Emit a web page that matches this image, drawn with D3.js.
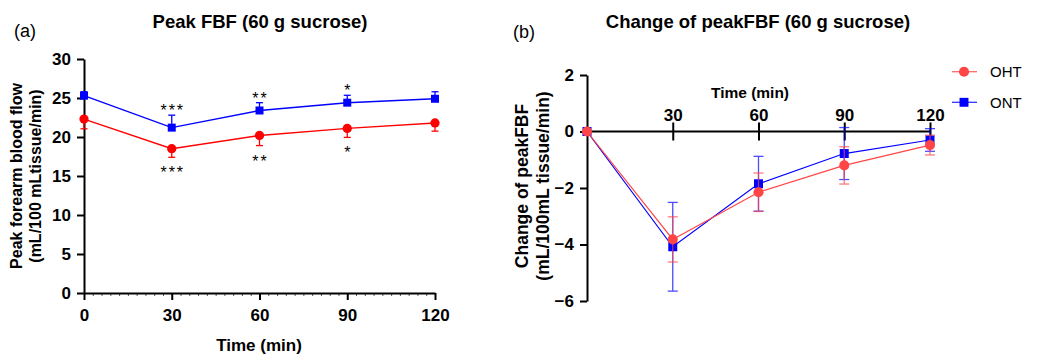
<!DOCTYPE html>
<html>
<head>
<meta charset="utf-8">
<script src="https://cdn.jsdelivr.net/npm/d3@7"></script>
<style>
  body { margin: 0; background: #fff; }
  svg { font-family: Arial, "Liberation Sans", sans-serif; }
</style>
</head>
<body>
<svg id="chart" width="1044" height="354"></svg>
<script>
// time points (min)
const times = [0, 30, 60, 90, 120];

// (a) peak FBF, mean and SEM
const ohtPeak = [22.3, 18.5, 20.2, 21.1, 21.8];
const ohtPeakErr = [1.25, 1.1, 1.3, 1.15, 1.05];
const ontPeak = [25.3, 21.2, 23.4, 24.4, 24.9];
const ontPeakErr = [0.5, 1.6, 1.0, 0.95, 0.9];
const sigAbove = ["", "***", "**", "*", ""];
const sigBelow = ["", "***", "**", "*", ""];

// (b) change of peak FBF, mean and SEM
const ohtChange = [0, -3.82, -2.15, -1.2, -0.48];
const ohtChangeErr = [0, 0.8, 0.68, 0.66, 0.35];
const ontChange = [0, -4.08, -1.85, -0.78, -0.3];
const ontChangeErr = [0, 1.57, 0.97, 0.92, 0.4];

const seriesNames = ["OHT", "ONT"];

const svg = d3.select("#chart");

function styleAxis(g) {
  g.select(".domain").attr("stroke", "#000").attr("stroke-width", 2);
  g.selectAll(".tick line").attr("stroke", "#000").attr("stroke-width", 2);
  g.selectAll(".tick text").attr("font-weight", "bold").attr("fill", "#000");
}

// ---------------- panel (a) ----------------
const xa = d3.scaleLinear().domain([0, 120]).range([84, 435]);
const ya = d3.scaleLinear().domain([0, 30]).range([293, 59]);

// minor ticks
svg.append("g")
  .attr("transform", "translate(0,293)")
  .call(d3.axisBottom(xa).tickValues(d3.range(0, 121, 3)).tickSize(3).tickFormat(""))
  .call(g => g.select(".domain").remove())
  .call(g => g.selectAll(".tick line").attr("stroke", "#555").attr("stroke-width", 1));

svg.append("g")
  .attr("transform", "translate(0,293)")
  .call(d3.axisBottom(xa).tickValues(times).tickSize(7).tickSizeOuter(0).tickPadding(9))
  .call(styleAxis)
  .call(g => g.selectAll(".tick text").attr("font-size", 17));

svg.append("g")
  .attr("transform", "translate(84,0)")
  .call(d3.axisLeft(ya).ticks(6).tickSize(7).tickSizeOuter(0).tickPadding(6))
  .call(styleAxis)
  .call(g => g.selectAll(".tick text").attr("font-size", 17));

svg.append("text").attr("x", 14).attr("y", 37).attr("font-size", 18).text("(a)");
svg.append("text").attr("x", 260).attr("y", 28).attr("text-anchor", "middle")
  .attr("font-size", 18.5).attr("font-weight", "bold").text("Peak FBF (60 g sucrose)");
svg.append("text").attr("x", 259).attr("y", 351).attr("text-anchor", "middle")
  .attr("font-size", 17).attr("font-weight", "bold").text("Time (min)");
const yla = svg.append("text").attr("transform", "translate(0,176) rotate(-90)")
  .attr("text-anchor", "middle").attr("font-size", 16).attr("font-weight", "bold");
yla.append("tspan").attr("x", 0).attr("y", 22).text("Peak forearm blood flow");
yla.append("tspan").attr("x", 0).attr("y", 41).text("(mL/100 mLtissue/min)");

function drawA(vals, errs, color, dir, shape) {
  const g = svg.append("g");
  const pts = times.map((t, i) => ({ t, v: vals[i], e: errs[i] }));
  g.selectAll(".eb").data(pts).enter().append("line")
    .attr("x1", d => xa(d.t)).attr("x2", d => xa(d.t))
    .attr("y1", d => ya(d.v)).attr("y2", d => ya(d.v + dir * d.e))
    .attr("stroke", color).attr("stroke-width", 1.3);
  g.selectAll(".cap").data(pts).enter().append("line")
    .attr("x1", d => xa(d.t) - 3.5).attr("x2", d => xa(d.t) + 3.5)
    .attr("y1", d => ya(d.v + dir * d.e)).attr("y2", d => ya(d.v + dir * d.e))
    .attr("stroke", color).attr("stroke-width", 1.3);
  g.append("path").datum(pts)
    .attr("d", d3.line().x(d => xa(d.t)).y(d => ya(d.v)))
    .attr("fill", "none").attr("stroke", color).attr("stroke-width", 1.4);
  g.selectAll(".m").data(pts).enter().append("path")
    .attr("transform", d => `translate(${xa(d.t)},${ya(d.v)})`)
    .attr("d", d3.symbol().type(shape).size(shape === d3.symbolSquare ? 64 : 68))
    .attr("fill", color);
}
drawA(ontPeak, ontPeakErr, "#0000ff", 1, d3.symbolSquare);
drawA(ohtPeak, ohtPeakErr, "#ff0000", -1, d3.symbolCircle);

// significance stars
svg.append("g").selectAll("text").data(times.map((t, i) => ({ t, s: sigAbove[i], v: ontPeak[i] + ontPeakErr[i] })))
  .enter().append("text")
  .attr("x", d => xa(d.t) + 1).attr("y", d => ya(d.v) + 1)
  .attr("text-anchor", "middle").attr("font-size", 16).attr("letter-spacing", 2)
  .attr("fill", "#000").text(d => d.s);
svg.append("g").selectAll("text").data(times.map((t, i) => ({ t, s: sigBelow[i], v: ohtPeak[i] - ohtPeakErr[i] })))
  .enter().append("text")
  .attr("x", d => xa(d.t) + 1).attr("y", d => ya(d.v) + 21)
  .attr("text-anchor", "middle").attr("font-size", 16).attr("letter-spacing", 2)
  .attr("fill", "#000").text(d => d.s);

// ---------------- panel (b) ----------------
const xb = d3.scaleLinear().domain([0, 120]).range([587, 930]);
const yb = d3.scaleLinear().domain([-6, 2]).range([301, 75]);

svg.append("g")
  .attr("transform", "translate(587,0)")
  .call(d3.axisLeft(yb).tickValues([-6, -4, -2, 0, 2]).tickSize(7).tickSizeOuter(0).tickPadding(6)
    .tickFormat(d3.format("d")))
  .call(styleAxis)
  .call(g => g.selectAll(".tick text").attr("font-size", 17));

svg.append("g")
  .attr("transform", `translate(0,${yb(0)})`)
  .call(d3.axisTop(xb).tickValues([30, 60, 90, 120]).tickSize(9).tickSizeOuter(0).tickPadding(2))
  .call(styleAxis)
  .call(g => g.select(".domain").attr("d", `M${xb(0)},0H${xb(120)}`))
  .call(g => g.selectAll(".tick line").attr("y1", 9))
  .call(g => g.selectAll(".tick text").attr("font-size", 17));

svg.append("text").attr("x", 513).attr("y", 38).attr("font-size", 18).text("(b)");
svg.append("text").attr("x", 758).attr("y", 28).attr("text-anchor", "middle")
  .attr("font-size", 18.5).attr("font-weight", "bold").text("Change of peakFBF (60 g sucrose)");
svg.append("text").attr("x", 750).attr("y", 98).attr("text-anchor", "middle")
  .attr("font-size", 15.5).attr("font-weight", "bold").text("Time (min)");
const ylb = svg.append("text").attr("transform", "translate(0,186) rotate(-90)")
  .attr("text-anchor", "middle").attr("font-size", 17.5).attr("font-weight", "bold");
ylb.append("tspan").attr("x", 0).attr("y", 528).text("Change of peakFBF");
ylb.append("tspan").attr("x", 0).attr("y", 549).text("(mL/100mL tissue/min)");

function drawB(vals, errs, color, shape, size) {
  const g = svg.append("g");
  const pts = times.map((t, i) => ({ t, v: vals[i], e: errs[i] }));
  const eb = g.append("g").attr("opacity", 0.7);
  eb.selectAll(".eb").data(pts.filter(d => d.e > 0)).enter().append("line")
    .attr("x1", d => xb(d.t)).attr("x2", d => xb(d.t))
    .attr("y1", d => yb(d.v + d.e)).attr("y2", d => yb(d.v - d.e))
    .attr("stroke", color).attr("stroke-width", 1.3);
  [1, -1].forEach(s => {
    eb.selectAll(".cap" + s).data(pts.filter(d => d.e > 0)).enter().append("line")
      .attr("x1", d => xb(d.t) - 5).attr("x2", d => xb(d.t) + 5)
      .attr("y1", d => yb(d.v + s * d.e)).attr("y2", d => yb(d.v + s * d.e))
      .attr("stroke", color).attr("stroke-width", 1.3);
  });
  g.append("path").datum(pts)
    .attr("d", d3.line().x(d => xb(d.t)).y(d => yb(d.v)))
    .attr("fill", "none").attr("stroke", color).attr("stroke-width", 1.2);
  g.selectAll(".m").data(pts).enter().append("path")
    .attr("transform", d => `translate(${xb(d.t)},${yb(d.v)})`)
    .attr("d", d3.symbol().type(shape).size(size))
    .attr("fill", color);
}
drawB(ontChange, ontChangeErr, "#0000ff", d3.symbolSquare, 81);
drawB(ohtChange, ohtChangeErr, "#ff4545", d3.symbolCircle, 80);

// legend
const legendColors = ["#ff4545", "#0000ff"];
const legendShapes = [d3.symbolCircle, d3.symbolSquare];
const lg = svg.append("g").selectAll("g").data(seriesNames).enter().append("g")
  .attr("transform", (d, i) => `translate(952,${71.7 + i * 30.6})`);
lg.append("line").attr("x1", 0).attr("x2", 25).attr("stroke", (d, i) => legendColors[i])
  .attr("stroke-width", 1.3).attr("opacity", 0.8);
lg.append("path").attr("transform", "translate(12,0)")
  .attr("d", (d, i) => d3.symbol().type(legendShapes[i]).size(80)())
  .attr("fill", (d, i) => legendColors[i]);
lg.append("text").attr("x", 38).attr("y", 5.5).attr("font-size", 15).text(d => d);
</script>
</body>
</html>
